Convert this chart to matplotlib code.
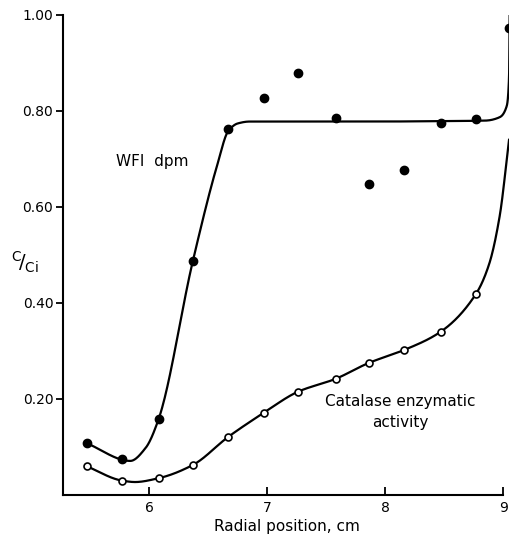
import numpy as np
import matplotlib
matplotlib.use('Agg')
import matplotlib.pyplot as plt

plt.rcParams['font.family'] = 'DejaVu Sans'
plt.rcParams['mathtext.fontset'] = 'dejavusans'

# WFI dpm (filled circles)
wfi_x = [5.47, 5.77, 6.08, 6.37, 6.67, 6.97, 7.26, 7.58, 7.86, 8.16, 8.47, 8.77, 9.05]
wfi_y = [0.108, 0.075, 0.158, 0.487, 0.762, 0.827, 0.879, 0.785, 0.648, 0.677, 0.775, 0.783, 0.973]

# catalase enzymatic activity (open circles)
cat_x = [5.47, 5.77, 6.08, 6.37, 6.67, 6.97, 7.26, 7.58, 7.86, 8.16, 8.47, 8.77]
cat_y = [0.060, 0.030, 0.035, 0.0625, 0.121, 0.171, 0.215, 0.242, 0.275, 0.302, 0.340, 0.419]

# hand-drawn fit curves, knots
wfi_curve_x = [5.47, 5.84, 5.97, 6.08, 6.37, 6.58, 6.67, 6.75, 6.85, 7.3, 7.9, 8.5, 8.85, 8.97, 9.03,
               9.05, 9.055]
wfi_curve_y = [0.108, 0.071, 0.098, 0.158, 0.487, 0.690, 0.758, 0.774, 0.778, 0.778, 0.778, 0.779,
               0.780, 0.787, 0.81, 0.87, 1.0]

cat_curve_x = [5.47, 5.77, 5.88, 6.08, 6.37, 6.67, 6.97, 7.26, 7.58, 7.86, 8.16, 8.47, 8.77, 8.88, 8.97, 9.05]
cat_curve_y = [0.060, 0.030, 0.027, 0.035, 0.0625, 0.121, 0.171, 0.215, 0.242, 0.275, 0.302, 0.340, 0.419,
               0.48, 0.58, 0.74]

xticks = [6, 7, 8, 9]
yticks = [0.2, 0.4, 0.6, 0.8, 1.0]
ytick_labels = ['0.20', '0.40', '0.60', '0.80', '1.00']


def smooth(xs, ys, n=40):
    # piecewise cubic hermite (pchip style) through the knots, no overshoot
    x = np.asarray(xs, float)
    y = np.asarray(ys, float)
    h = np.diff(x)
    delta = np.diff(y) / h
    d = np.zeros_like(y)
    for k in range(1, len(x) - 1):
        if delta[k - 1] * delta[k] > 0:
            w1 = 2 * h[k] + h[k - 1]
            w2 = h[k] + 2 * h[k - 1]
            d[k] = (w1 + w2) / (w1 / delta[k - 1] + w2 / delta[k])
    d[0] = delta[0]
    d[-1] = delta[-1]
    px, py = [], []
    for k in range(len(x) - 1):
        t = np.linspace(0, 1, n)
        h00 = 2 * t ** 3 - 3 * t ** 2 + 1
        h10 = t ** 3 - 2 * t ** 2 + t
        h01 = -2 * t ** 3 + 3 * t ** 2
        h11 = t ** 3 - t ** 2
        px.append(x[k] + t * h[k])
        py.append(h00 * y[k] + h10 * h[k] * d[k] + h01 * y[k + 1] + h11 * h[k] * d[k + 1])
    return np.concatenate(px), np.concatenate(py)


fig = plt.figure(figsize=(5.10, 5.37), dpi=100)
ax = fig.add_axes([63 / 510, 42 / 537, 447 / 510, 480 / 537])
ax.set_xlim(5.27, 5.27 + 447 / 118)
ax.set_ylim(0, 1.0)

cx, cy = smooth(wfi_curve_x, wfi_curve_y)
ax.plot(cx, cy, color='black', lw=1.6)
cx, cy = smooth(cat_curve_x, cat_curve_y)
ax.plot(cx, cy, color='black', lw=1.6)

ax.plot(wfi_x, wfi_y, 'o', color='black', ms=6)
ax.plot(cat_x, cat_y, 'o', mfc='white', mec='black', mew=1.2, ms=5)

ax.text(5.72, 0.695, 'WFI  dpm', fontsize=11, ha='left', va='center')
ax.text(8.13, 0.172, 'Catalase enzymatic\nactivity', fontsize=11, ha='center', va='center',
        linespacing=1.5)

# delete right up frame
ax.spines['top'].set_visible(False)
ax.spines['right'].set_visible(False)
ax.spines['left'].set_linewidth(1.5)
ax.spines['bottom'].set_linewidth(1.5)
ax.spines['bottom'].set_bounds(5.27, 9)

ax.set_xticks(xticks)
ax.set_xticklabels([str(v) for v in xticks])
ax.set_yticks(yticks)
ax.set_yticklabels(ytick_labels)
ax.tick_params(axis='x', direction='in', length=6, width=1.3, labelsize=10, pad=4)
ax.tick_params(axis='y', direction='out', length=5, width=1.3, labelsize=10, pad=2)

ax.set_xlabel('Radial position, cm', fontsize=11, labelpad=3)
fig.text(25 / 510, 1 - 262 / 537, r'$^{\mathrm{C}}\!/_{\mathrm{Ci}}$', fontsize=14,
         ha='center', va='center')

plt.savefig('out.png', dpi=100)
